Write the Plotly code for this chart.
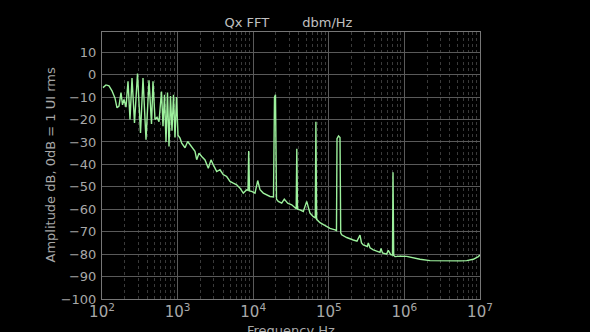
import plotly.graph_objects as go

# Frequency (Hz) and amplitude (dB)
freq_hz = [
    103.1, 112.9, 123.8, 135.6, 148.6, 157.9, 167.8, 178.4, 186.7, 195.4,
    207.7, 220.8, 234.6, 249.4, 269.1, 294.9, 323.1, 348.6, 382.0, 418.5,
    451.6, 472.7, 502.4, 534.0, 567.5, 612.4, 641.0, 671.0, 702.4, 735.2,
    769.6, 805.5, 843.2, 882.6, 923.9, 967.0, 1012, 1076, 1133, 1253,
    1360, 1504, 1699, 1789, 1919, 2084, 2304, 2547, 2766, 2967,
    3290, 3638, 4023, 4462, 4933, 5456, 6050, 6691, 7396, 8204,
    8536, 8720, 8935, 9555, 10560, 11470, 12300, 13600, 15090, 16680,
    18560, 19130, 19720, 20330, 21480, 23820, 25780, 28600, 32310, 35720,
    37050, 37730, 38550, 41590, 45990, 51030, 56410, 62370, 66270, 67500,
    68950, 76480, 89060, 103700, 120800, 126400, 128400, 134400, 140700, 143700,
    148100, 172500, 210900, 236000, 258600, 270700, 286000, 323100, 333100, 350800,
    387900, 475600, 490300, 513200, 583300, 612400, 658700, 696000, 706700, 722000,
    751200, 874900, 1073000, 1186000, 1608000, 2181000, 2958000, 4012000, 5438000, 6670000,
    8155000, 9495000, 10000000,
]
amp_db = [
    -5.8, -4.6, -5.0, -7.2, -10.5, -14.8, -14.0, -8.0, -13.5, -11.0,
    -14.5, -3.0, -20.0, -1.5, -21.5, 0.5, -26.0, -1.5, -29.0, -2.5,
    -22.0, -3.0, -20.0, -19.0, -21.0, -7.5, -23.0, -9.0, -30.0, -8.0,
    -32.0, -9.5, -25.0, -9.0, -28.0, -10.0, -27.0, -28.3, -30.5, -32.6,
    -29.8, -32.0, -34.2, -37.9, -35.0, -36.5, -38.0, -41.7, -38.0, -40.2,
    -43.2, -42.4, -44.6, -45.4, -47.6, -48.4, -49.1, -50.6, -52.8, -51.3,
    -51.5, -34.0, -51.8, -52.0, -52.8, -47.2, -51.3, -52.8, -53.6, -54.3,
    -54.5, -10.0, -9.0, -55.5, -56.5, -57.3, -55.5, -57.3, -58.0, -59.5,
    -59.8, -33.0, -60.0, -60.3, -61.0, -56.5, -61.7, -63.3, -63.8, -21.0,
    -64.5, -66.0, -67.3, -68.5, -69.2, -69.5, -28.5, -27.3, -28.0, -70.5,
    -71.4, -72.6, -73.7, -74.2, -71.5, -75.0, -75.9, -76.6, -75.0, -77.2,
    -78.1, -79.2, -77.5, -79.5, -80.0, -78.3, -80.2, -80.4, -43.5, -80.6,
    -81.1, -80.9, -81.0, -81.4, -82.3, -82.9, -83.0, -82.9, -83.0, -82.9,
    -82.3, -81.1, -80.4,
]

y_ticks = [-100, -90, -80, -70, -60, -50, -40, -30, -20, -10, 0, 10]
x_title = "Frequency Hz"
y_title = "Amplitude dB, 0dB = 1 UI rms"

grid = "#5a5a5a"
text_col = "#a8a8a8"
font = "DejaVu Sans"

fig = go.Figure()
fig.add_trace(go.Scatter(
    x=freq_hz, y=amp_db, mode="lines",
    line=dict(color="#9cf09c", width=1.4),
    showlegend=False,
))

plot_h = 332 - 32 - 33
plot_w = 590 - 102 - 110

fig.update_layout(
    width=590, height=332,
    paper_bgcolor="black", plot_bgcolor="black",
    margin=dict(l=102, r=110, t=32, b=33),
    font=dict(family=font, color=text_col, size=12),
    title=dict(
        text="Qx FFT\u00a0\u00a0\u00a0\u00a0\u00a0\u00a0\u00a0\u00a0dbm/Hz",
        x=0.4932, xanchor="center", xref="paper",
        y=1 - 22.5 / 332, yanchor="middle", yref="container",
        font=dict(size=13, color="#c0c0c0", family=font),
    ),
    xaxis=dict(
        type="log", range=[2, 7], dtick=1,
        exponentformat="power", showexponent="all",
        showgrid=True, gridcolor=grid, gridwidth=1,
        minor=dict(dtick="D1", showgrid=True, gridcolor="#3a3a3a",
                   griddash="dot", gridwidth=1),
        showline=True, linecolor="#777777", mirror=True,
        zeroline=False, ticks="", ticklabelstandoff=0,
        automargin=False,
        tickfont=dict(size=12, color=text_col),
    ),
    yaxis=dict(
        range=[-100, 19], tickvals=y_ticks,
        showgrid=True, gridcolor=grid, gridwidth=1,
        showline=True, linecolor="#777777", mirror=True,
        zeroline=False, ticks="", ticklabelstandoff=2,
        automargin=False,
        tickfont=dict(size=13, color=text_col),
    ),
    annotations=[
        dict(text=x_title, xref="paper", yref="paper",
             x=0.5, y=-(330 - 299) / plot_h, xanchor="center", yanchor="middle",
             showarrow=False, font=dict(size=13, color=text_col)),
        dict(text=y_title, xref="paper", yref="paper", textangle=-90,
             x=(50 - 102) / plot_w, y=0.5, xanchor="center", yanchor="middle",
             showarrow=False, font=dict(size=13, color=text_col)),
    ],
)

fig.write_html("out.html")
